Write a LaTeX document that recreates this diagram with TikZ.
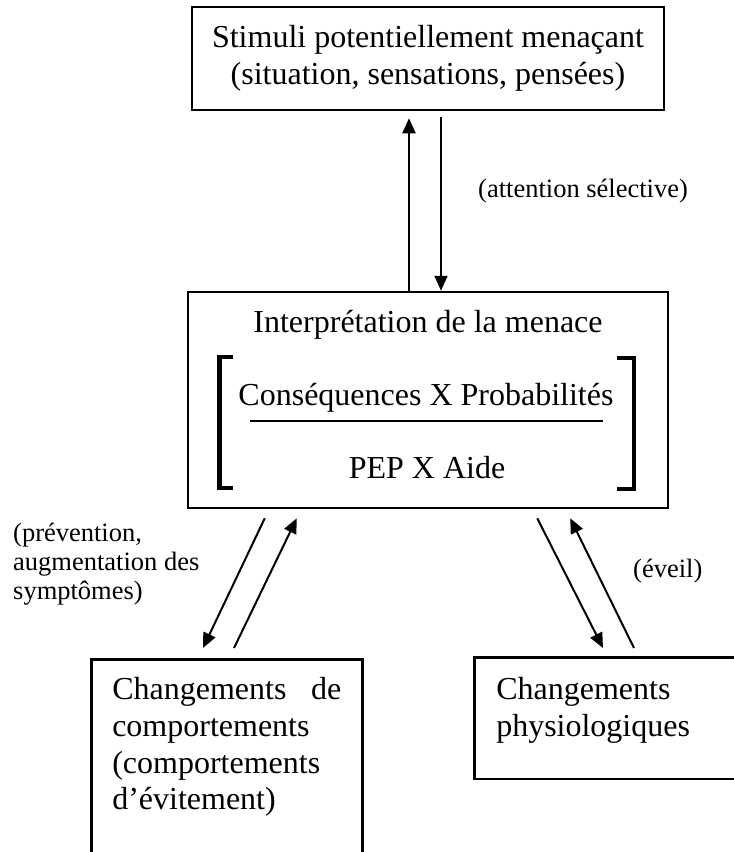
\documentclass[tikz,border=0pt]{standalone}
\usepackage{fontspec}
\usepackage{tikz}
\usetikzlibrary{arrows.meta}
\setmainfont{Liberation Serif}
\newcommand{\boxfont}{\fontsize{32}{36.8}\selectfont}
\newcommand{\lblfont}{\fontsize{26.5}{29}\selectfont}

\begin{document}
\begin{tikzpicture}[
    x=1pt, y=-1pt,
    box/.style={draw, line width=2.5pt, align=center, font=\boxfont, inner sep=0pt},
    txt/.style={font=\boxfont, inner sep=0pt, anchor=base},
    lbl/.style={font=\lblfont, inner sep=0pt},
    bracket/.style={line width=4.5pt},
    arrow/.style={-{Triangle[length=15pt,width=13pt]}, line width=2pt}
]
    \useasboundingbox (0,0) rectangle (734,852);
    \clip (0,0) rectangle (734,852);

    % Stimuli
    \node[box, minimum width=472pt, minimum height=103pt] (stim) at (428,58.5)
        {Stimuli potentiellement menaçant\\(situation, sensations, pensées)};

    % Interpretation
    \node[box, minimum width=480pt, minimum height=216pt] (interp) at (428,400) {};
    \node[txt] (title) at (428,332) {Interprétation de la menace};
    \node[txt] (num) at (426,405) {Conséquences X Probabilités};
    \node[txt] (den) at (427,478) {PEP X Aide};
    \draw[line width=1.5pt] (250,421) -- (603,421);
    \draw[bracket] (233,357) -- (219.5,357) -- (219.5,488) -- (233,488);
    \draw[bracket] (617,358) -- (634,358) -- (634,489) -- (617,489);

    % Changements
    \node[box, anchor=north west, text width=229pt, inner xsep=21pt, inner ysep=18pt, align=left]
        (behav) at (90,658)
        {Changements\hfill de\\comportements\\(comportements\\d’évitement)\par\vspace*{60pt}\hrule height 0pt};
    \node[box, anchor=north west, text width=300pt, inner xsep=22pt, inner ysep=20pt, align=left]
        (phys) at (473,656)
        {Changements\\physiologiques\par\vspace*{16pt}\hrule height 0pt};

    % Labels
    \node[lbl, anchor=base west] (att) at (478,197) {(attention sélective)};
    \node[lbl, anchor=north west, align=left] (prev) at (13,523)
        {(prévention,\\augmentation des\\symptômes)};
    \node[lbl, anchor=base west] (eveil) at (633,577) {(éveil)};

    % Arrows
    \draw[arrow] ([xshift=-19pt]interp.north) -- ([xshift=-19pt,yshift=-7pt]stim.south);
    \draw[arrow] ([xshift=13pt,yshift=-6pt]stim.south) -- ([xshift=13pt]interp.north);
    \draw[arrow] ([xshift=78pt,yshift=-9pt]interp.south west) -- ([xshift=113pt,yshift=10pt]behav.north west);
    \draw[arrow] ([xshift=144pt,yshift=10pt]behav.north west) -- ([xshift=110pt,yshift=-9pt]interp.south west);
    \draw[arrow] ([xshift=-132pt,yshift=-9pt]interp.south east) -- ([xshift=130pt,yshift=8pt]phys.north west);
    \draw[arrow] ([xshift=161pt,yshift=8pt]phys.north west) -- ([xshift=-99pt,yshift=-9pt]interp.south east);
\end{tikzpicture}
\end{document}
